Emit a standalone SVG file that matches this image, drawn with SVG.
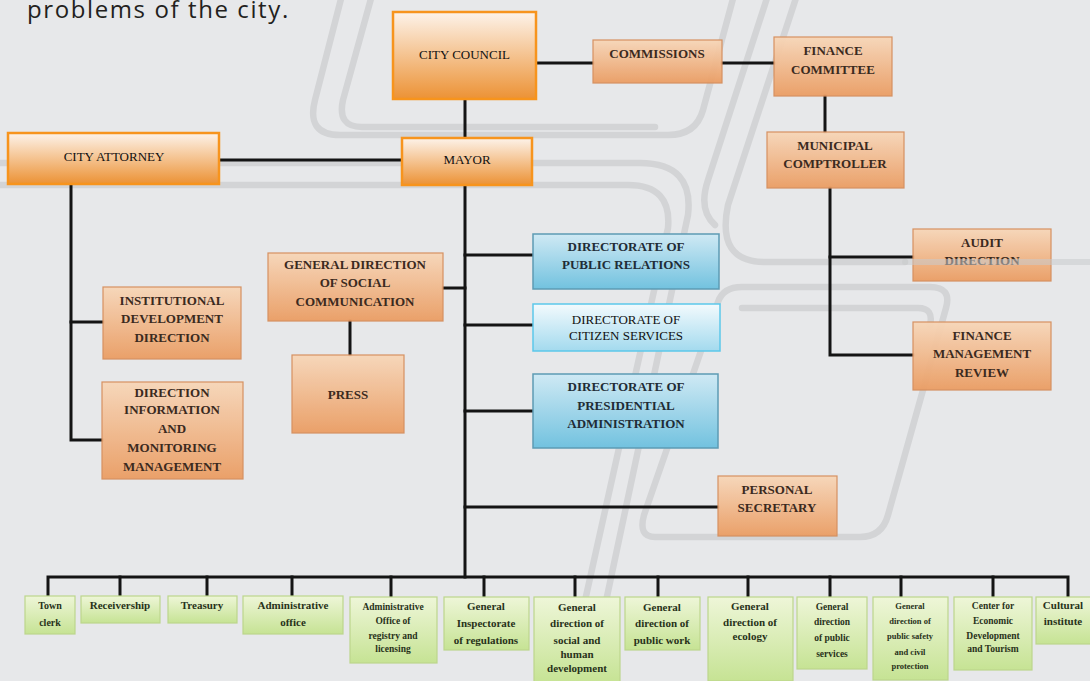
<svg xmlns="http://www.w3.org/2000/svg" width="1090" height="681" viewBox="0 0 1090 681">
<defs>
<linearGradient id="gBright" x1="0" y1="0" x2="0" y2="1"><stop offset="0" stop-color="#fdf3ea"/><stop offset="1" stop-color="#ec9235"/></linearGradient>
<linearGradient id="gSoft" x1="0" y1="0" x2="0" y2="1"><stop offset="0" stop-color="#f7d6b8"/><stop offset="1" stop-color="#eb9d63"/></linearGradient>
<linearGradient id="gBlue" x1="0" y1="0" x2="0" y2="1"><stop offset="0" stop-color="#cfe9f4"/><stop offset="1" stop-color="#72c2df"/></linearGradient>
<linearGradient id="gCit" x1="0" y1="0" x2="0" y2="1"><stop offset="0" stop-color="#f3fafd"/><stop offset="1" stop-color="#a3daee"/></linearGradient>
<linearGradient id="gGreen" x1="0" y1="0" x2="0" y2="1"><stop offset="0" stop-color="#eef6d8"/><stop offset="1" stop-color="#c6e394"/></linearGradient>
</defs>
<style>
.wm{fill:none;stroke:#d3d4d6;stroke-width:6.5;stroke-linecap:round;stroke-linejoin:round}
.wmo{fill:none;stroke:#c9cacc;stroke-width:6;stroke-linecap:round;opacity:0.55}
.conn{fill:none;stroke:#141414;stroke-width:3;stroke-linecap:square}
.nb{fill:url(#gBright);stroke:#f7941d;stroke-width:2.5}
.ns{fill:url(#gSoft);stroke:#d68d5a;stroke-width:1.2;opacity:0.95}
.nbl{fill:url(#gBlue);stroke:#5d9bb4;stroke-width:1.5}
.nc{fill:url(#gCit);stroke:#5cc7ea;stroke-width:1.5}
.ng{fill:url(#gGreen);stroke:#bcd68c;stroke-width:1.2}
.tb{font-family:"Liberation Serif","Times New Roman",serif;font-size:13px;fill:#111;text-anchor:middle}
.ts{font-family:"Liberation Serif","Times New Roman",serif;font-weight:bold;font-size:13px;fill:#3b2a1e;text-anchor:middle}
.tsb{font-family:"Liberation Serif","Times New Roman",serif;font-weight:bold;font-size:13px;fill:#1f2c36;text-anchor:middle}
.tg{font-family:"Liberation Serif","Times New Roman",serif;font-weight:bold;fill:#28321a;text-anchor:middle}
.hd{font-family:"Open Sans","Liberation Sans",sans-serif;font-size:24px;letter-spacing:1.6px;fill:#231f20}
</style>
<rect x="0" y="0" width="1090" height="681" fill="#e7e8ea"/>
<g id="watermark">
<path class="wm" d="M342 -5 L315 100 Q306 135 340 135 L668 135 Q696 135 703 110 L734 -5"/>
<path class="wm" d="M372 -5 L343 100 Q337 127 362 127 L655 127"/>
<path class="wm" d="M797 -5 L728 205 Q716 262 765 262 L905 262"/>
<path class="wm" d="M768 -5 L708 180 Q698 210 715 225"/>
<path class="wm" d="M-5 163 H640 Q694 163 688 215 L588 686"/>
<path class="wm" d="M-5 185 H628 Q672 185 668 228 L566 686"/>
<path class="wm" d="M655 537 Q638 537 644 515 L718 302 Q723 287 742 287 H930 Q952 287 946 308 L888 515 Q882 537 860 537 Z"/>
<path class="wm" d="M742 308 H918 Q934 308 930 325"/>
</g>
<text class="hd" x="27" y="18">problems of the city.</text>
<g id="connectors">
<path class="conn" d="M536 63 H593"/>
<path class="conn" d="M722 63 H774"/>
<path class="conn" d="M465 99 V138"/>
<path class="conn" d="M219 160 H402"/>
<path class="conn" d="M825 96 V132"/>
<path class="conn" d="M830 188 V355 H913"/>
<path class="conn" d="M830 257 H913"/>
<path class="conn" d="M465 185 V577"/>
<path class="conn" d="M465 255 H533"/>
<path class="conn" d="M465 325 H533"/>
<path class="conn" d="M465 411 H533"/>
<path class="conn" d="M443 288 H465"/>
<path class="conn" d="M465 507 H718"/>
<path class="conn" d="M350 321 V355"/>
<path class="conn" d="M71 184 V440 H102"/>
<path class="conn" d="M71 322 H103"/>
<path class="conn" d="M48 596 V577 H1068 V597"/>
<path class="conn" d="M120 577 V596 M207 577 V596 M292 577 V596 M391 577 V597 M484 577 V597 M575 577 V597 M658 577 V597 M748 577 V597 M830 577 V597 M901 577 V597 M993 577 V597"/>
</g>
<g id="city-council"><rect class="nb" x="393" y="12" width="143" height="87"/><text class="tb" x="464.5" y="59">CITY COUNCIL</text></g>
<g id="commissions"><rect class="ns" x="593" y="40" width="129" height="43"/><text class="ts" x="657" y="58">COMMISSIONS</text></g>
<g id="finance-committee"><rect class="ns" x="774" y="37" width="118" height="59"/><text class="ts" x="833" y="55">FINANCE</text><text class="ts" x="833" y="74">COMMITTEE</text></g>
<g id="municipal-comptroller"><rect class="ns" x="767" y="132" width="137" height="56"/><text class="ts" x="835" y="150">MUNICIPAL</text><text class="ts" x="835" y="168">COMPTROLLER</text></g>
<g id="city-attorney"><rect class="nb" x="8" y="133" width="211" height="51"/><text class="tb" x="114" y="161">CITY ATTORNEY</text></g>
<g id="mayor"><rect class="nb" x="402" y="138" width="130" height="47"/><text class="tb" x="467" y="164">MAYOR</text></g>
<g id="audit-direction"><rect class="ns" x="913" y="229" width="138" height="52"/><text class="ts" x="982" y="247">AUDIT</text><text class="ts" x="982" y="265">DIRECTION</text></g>
<path class="wmo" d="M905 262 L1095 262"/>
<g id="finance-management-review"><rect class="ns" x="913" y="322" width="138" height="68"/><text class="ts" x="982" y="340">FINANCE</text><text class="ts" x="982" y="358">MANAGEMENT</text><text class="ts" x="982" y="377">REVIEW</text></g>
<g id="public-relations"><rect class="nbl" x="533" y="234" width="186" height="55"/><text class="tsb" x="626" y="251">DIRECTORATE  OF</text><text class="tsb" x="626" y="269">PUBLIC RELATIONS</text></g>
<g id="citizen-services"><rect class="nc" x="533" y="304" width="187" height="47"/><text class="tb" x="626" y="324">DIRECTORATE OF</text><text class="tb" x="626" y="340">CITIZEN SERVICES</text></g>
<g id="presidential-administration"><rect class="nbl" x="533" y="374" width="185" height="74"/><text class="tsb" x="626" y="391">DIRECTORATE  OF</text><text class="tsb" x="626" y="410">PRESIDENTIAL</text><text class="tsb" x="626" y="428">ADMINISTRATION</text></g>
<g id="personal-secretary"><rect class="ns" x="718" y="476" width="119" height="60"/><text class="ts" x="777" y="494">PERSONAL</text><text class="ts" x="777" y="512">SECRETARY</text></g>
<g id="social-communication"><rect class="ns" x="268" y="253" width="175" height="68"/><text class="ts" x="355" y="269">GENERAL DIRECTION</text><text class="ts" x="355" y="287">OF SOCIAL</text><text class="ts" x="355" y="306">COMMUNICATION</text></g>
<g id="press"><rect class="ns" x="292" y="355" width="112" height="78"/><text class="ts" x="348" y="399">PRESS</text></g>
<g id="institutional-development"><rect class="ns" x="103" y="287" width="138" height="72"/><text class="ts" x="172" y="305">INSTITUTIONAL</text><text class="ts" x="172" y="323">DEVELOPMENT</text><text class="ts" x="172" y="342">DIRECTION</text></g>
<g id="direction-information"><rect class="ns" x="102" y="382" width="141" height="97"/><text class="ts" x="172" y="397">DIRECTION</text><text class="ts" x="172" y="414">INFORMATION</text><text class="ts" x="172" y="433">AND</text><text class="ts" x="172" y="452">MONITORING</text><text class="ts" x="172" y="471">MANAGEMENT</text></g>
<g id="town-clerk"><rect class="ng" x="25" y="596" width="50" height="38"/><text class="tg" font-size="10" x="50" y="609">Town</text><text class="tg" font-size="10" x="50" y="626">clerk</text></g>
<g id="receivership"><rect class="ng" x="81" y="596" width="79" height="27"/><text class="tg" font-size="11" x="120" y="609">Receivership</text></g>
<g id="treasury"><rect class="ng" x="168" y="596" width="69" height="27"/><text class="tg" font-size="11" x="202" y="609">Treasury</text></g>
<g id="administrative-office"><rect class="ng" x="243" y="596" width="100" height="38"/><text class="tg" font-size="11" x="293" y="609">Administrative</text><text class="tg" font-size="11" x="293" y="626">office</text></g>
<g id="registry-licensing"><rect class="ng" x="350" y="597" width="87" height="66"/><text class="tg" font-size="9.5" x="393" y="610">Administrative</text><text class="tg" font-size="9.5" x="393" y="624">Office of</text><text class="tg" font-size="9.5" x="393" y="639">registry and</text><text class="tg" font-size="9.5" x="393" y="652">licensing</text></g>
<g id="inspectorate"><rect class="ng" x="444" y="597" width="85" height="53"/><text class="tg" font-size="11" x="486" y="610">General</text><text class="tg" font-size="11" x="486" y="627">Inspectorate</text><text class="tg" font-size="11" x="486" y="644">of regulations</text></g>
<g id="social-human-development"><rect class="ng" x="534" y="597" width="86" height="86"/><text class="tg" font-size="11" x="577" y="611">General</text><text class="tg" font-size="11" x="577" y="627">direction of</text><text class="tg" font-size="11" x="577" y="644">social and</text><text class="tg" font-size="11" x="577" y="658">human</text><text class="tg" font-size="11" x="577" y="672">development</text></g>
<g id="public-work"><rect class="ng" x="625" y="597" width="75" height="53"/><text class="tg" font-size="11" x="662" y="611">General</text><text class="tg" font-size="11" x="662" y="627">direction of</text><text class="tg" font-size="11" x="662" y="644">public work</text></g>
<g id="ecology"><rect class="ng" x="708" y="597" width="85" height="84"/><text class="tg" font-size="11" x="750" y="610">General</text><text class="tg" font-size="11" x="750" y="626">direction of</text><text class="tg" font-size="11" x="750" y="640">ecology</text></g>
<g id="public-services"><rect class="ng" x="797" y="597" width="70" height="72"/><text class="tg" font-size="9.5" x="832" y="610">General</text><text class="tg" font-size="9.5" x="832" y="625">direction</text><text class="tg" font-size="9.5" x="832" y="641">of public</text><text class="tg" font-size="9.5" x="832" y="657">services</text></g>
<g id="public-safety"><rect class="ng" x="873" y="597" width="75" height="83"/><text class="tg" font-size="8.5" x="910" y="609">General</text><text class="tg" font-size="8.5" x="910" y="624">direction of</text><text class="tg" font-size="8.5" x="910" y="639">public safety</text><text class="tg" font-size="8.5" x="910" y="655">and civil</text><text class="tg" font-size="8.5" x="910" y="669">protection</text></g>
<g id="economic-development"><rect class="ng" x="954" y="597" width="78" height="73"/><text class="tg" font-size="9.5" x="993" y="609">Center for</text><text class="tg" font-size="9.5" x="993" y="624">Economic</text><text class="tg" font-size="9.5" x="993" y="639">Development</text><text class="tg" font-size="9.5" x="993" y="652">and Tourism</text></g>
<g id="cultural-institute"><rect class="ng" x="1036" y="597" width="58" height="47"/><text class="tg" font-size="11" x="1063" y="609">Cultural</text><text class="tg" font-size="11" x="1063" y="625">institute</text></g>
</svg>
